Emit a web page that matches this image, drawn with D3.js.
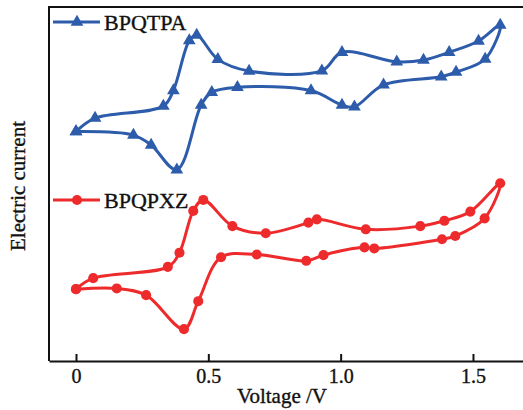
<!DOCTYPE html>
<html>
<head>
<meta charset="utf-8">
<script src="https://cdn.jsdelivr.net/npm/d3@7"></script>
<style>
    body { margin: 0; background: #fff; }
    text { font-family: "Liberation Serif", "Times New Roman", serif; fill: #111; stroke: #111; stroke-width: 0.35px; }
</style>
</head>
<body>
<div class="chart"></div>
<script>
// BPQTPA: one cyclic sweep, forward then back to 0 V
const tpaVoltage = [0.00, 0.072, 0.330, 0.368, 0.428, 0.456, 0.536, 0.654, 0.929, 1.005, 1.212, 1.313, 1.410, 1.521, 1.603,
    1.546, 1.436, 1.380, 1.162, 1.052, 1.005, 0.888, 0.610, 0.513, 0.473, 0.381, 0.284, 0.217, 0.00]
const tpaCurrent = [64.8, 68.6, 72.0, 76.4, 90.5, 92.1, 85.2, 81.9, 82.0, 87.2, 84.5, 85.0, 87.2, 90.4, 94.9,
    85.3, 81.6, 80.3, 78.0, 71.8, 72.3, 76.4, 77.3, 75.9, 72.3, 54.0, 61.0, 63.8, 64.8]

// BPQPXZ
const pxzVoltage = [0.00, 0.065, 0.347, 0.391, 0.443, 0.481, 0.591, 0.717, 0.878, 0.910, 1.095, 1.301, 1.392, 1.490, 1.603,
    1.544, 1.433, 1.383, 1.127, 1.090, 0.935, 0.870, 0.683, 0.548, 0.462, 0.408, 0.265, 0.154, 0.00]
const pxzCurrent = [20.3, 23.4, 26.6, 30.6, 42.4, 45.5, 38.1, 36.1, 39.1, 40.0, 37.2, 38.1, 39.6, 42.2, 50.2,
    40.3, 35.3, 34.4, 31.8, 32.1, 29.9, 28.3, 30.1, 29.3, 16.9, 9.0, 18.6, 20.5, 20.3]

const xTicks = [0, 0.5, 1.0, 1.5]
const xTickLabels = ['0', '0.5', '1.0', '1.5']

const width = 523, height = 410
const plotLeft = 49, plotTop = 7, plotBottom = 361

const blue = '#2d5cab'
const red = '#ee2b2c'

const svg = d3.select('.chart')
    .append('svg')
    .attr('width', width)
    .attr('height', height)

const xScale = d3.scaleLinear()
    .domain([-0.102, 1.689])
    .range([plotLeft, width])

const yScale = d3.scaleLinear()
    .domain([0, 100])
    .range([plotBottom, plotTop])

// frame: left and top only, bottom comes from the axis
svg.append('path')
    .attr('d', `M${plotLeft},${plotBottom}V${plotTop}H${width}`)
    .attr('fill', 'none')
    .attr('stroke', '#111')
    .attr('stroke-width', 2)

const xAxis = d3.axisBottom(xScale)
    .tickValues(xTicks)
    .tickFormat((d, i) => xTickLabels[i])
    .tickSizeInner(-7)
    .tickSizeOuter(0)
    .tickPadding(8)

const gx = svg.append('g')
    .attr('transform', `translate(0, ${plotBottom})`)
    .call(xAxis)
gx.select('.domain').attr('stroke', '#111').attr('stroke-width', 2)
gx.selectAll('.tick line').attr('stroke', '#111').attr('stroke-width', 2)
gx.selectAll('.tick text')
    .attr('font-family', '"Liberation Serif", serif')
    .attr('font-size', 20)
    .attr('fill', '#111')

svg.append('text')
    .attr('x', 282)
    .attr('y', 403)
    .attr('text-anchor', 'middle')
    .attr('font-size', 21)
    .text('Voltage /V')

svg.append('text')
    .attr('transform', 'translate(25, 186) rotate(-90)')
    .attr('text-anchor', 'middle')
    .attr('font-size', 21)
    .text('Electric current')

const line = d3.line()
    .x(d => xScale(d[0]))
    .y(d => yScale(d[1]))
    .curve(d3.curveCatmullRom.alpha(0.5))

const series = [
    {name: 'BPQTPA', v: tpaVoltage, i: tpaCurrent, color: blue, symbol: d3.symbolTriangle, legendY: 22},
    {name: 'BPQPXZ', v: pxzVoltage, i: pxzCurrent, color: red, symbol: d3.symbolCircle, legendY: 200}
]

series.forEach(s => {
    const pts = s.v.map((v, k) => [v, s.i[k]])
    const sym = d3.symbol().type(s.symbol).size(s.symbol === d3.symbolCircle ? 80 : 70)

    svg.append('path')
        .attr('d', line(pts))
        .attr('fill', 'none')
        .attr('stroke', s.color)
        .attr('stroke-width', 3)

    svg.append('g')
        .selectAll('path')
        .data(pts)
        .join('path')
            .attr('transform', d => `translate(${xScale(d[0])}, ${yScale(d[1])})`)
            .attr('d', sym)
            .attr('fill', s.color)

    // legend
    svg.append('line')
        .attr('x1', 53).attr('x2', 100)
        .attr('y1', s.legendY).attr('y2', s.legendY)
        .attr('stroke', s.color)
        .attr('stroke-width', 3)
    svg.append('path')
        .attr('transform', `translate(77, ${s.legendY})`)
        .attr('d', sym)
        .attr('fill', s.color)
    svg.append('text')
        .attr('x', 104)
        .attr('y', s.legendY + 8)
        .attr('font-size', 22)
        .text(s.name)
})
</script>
</body>
</html>
